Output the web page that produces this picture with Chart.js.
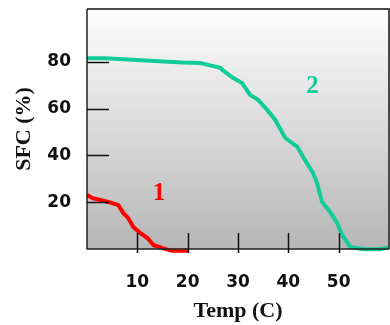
<!DOCTYPE html>
<html>
<head>
<meta charset="utf-8">
<script src="https://cdn.jsdelivr.net/npm/chart.js@4.4.1/dist/chart.umd.min.js"></script>
<style>
  html, body { margin: 0; padding: 0; background: #fff; }
  #wrap { width: 390px; height: 325px; }
</style>
</head>
<body>
<div id="wrap"><canvas id="sfcChart"></canvas></div>
<script>
// Solid fat content curves
const fat1Temp = [0, 1.1, 2.7, 4.2, 6.2, 7.2, 8.2, 9.2, 10.6, 12, 13.2, 15, 16.9, 20.1];
const fat1Sfc = [23.1, 21.7, 20.9, 20.1, 18.8, 15.4, 13.2, 9.4, 6.8, 4.7, 1.7, 0.4, -0.8, -0.8];

const fat2Temp = [0, 3.6, 11.6, 18.9, 22.5, 24.9, 26.5, 26.9, 29, 30.8, 32.4, 34, 35.8, 37.4,
  39.4, 41.8, 43.3, 44.9, 45.7, 46.7, 48.3, 49.7, 50.7, 52.3, 54.8, 58.2, 60];
const fat2Sfc = [81.5, 81.5, 80.5, 79.6, 79.4, 78.2, 77.4, 76.5, 73.1, 70.9, 65.8, 63.7, 59.4, 55.1,
  47.4, 43.6, 38, 32.5, 28.2, 20.1, 15.8, 11.1, 6, 0.9, -0.1, -0.1, 0.7];

const xTickValues = [10, 20, 30, 40, 50];
const yTickValues = [20, 40, 60, 80];

const curveNames = ['1', '2'];
const curveColors = ['#ff0000', '#12cc98'];

function toPoints(xs, ys) {
  return xs.map((x, i) => ({ x: x, y: ys[i] }));
}

// background gradient, frame, inward tick marks and curve numbers
const chartFrame = {
  id: 'chartFrame',
  beforeDraw(chart) {
    const { ctx, chartArea: a } = chart;
    const g = ctx.createLinearGradient(0, a.top, 0, a.bottom);
    g.addColorStop(0, '#fefefe');
    g.addColorStop(1, '#b6b6b6');
    ctx.save();
    ctx.fillStyle = g;
    ctx.fillRect(a.left, a.top, a.right - a.left, a.bottom - a.top);
    ctx.restore();
  },
  afterDatasetsDraw(chart, args, opts) {
    const { ctx, chartArea: a } = chart;
    const xs = chart.scales.x, ys = chart.scales.y;
    ctx.save();
    // top and right border
    ctx.strokeStyle = '#4a4a4a';
    ctx.lineWidth = 2;
    ctx.beginPath();
    ctx.moveTo(a.left, a.top);
    ctx.lineTo(a.right, a.top);
    ctx.lineTo(a.right, a.bottom);
    ctx.stroke();
    // axes
    ctx.strokeStyle = '#222';
    ctx.lineWidth = 1.5;
    ctx.beginPath();
    ctx.moveTo(a.left, a.top);
    ctx.lineTo(a.left, a.bottom);
    ctx.lineTo(a.right, a.bottom);
    ctx.stroke();
    // tick marks pointing inside
    ctx.strokeStyle = '#111';
    ctx.beginPath();
    xs.ticks.forEach(t => {
      const px = Math.round(xs.getPixelForValue(t.value)) + 0.5;
      ctx.moveTo(px, a.bottom + 4);
      ctx.lineTo(px, a.bottom - 16);
    });
    ys.ticks.forEach(t => {
      const py = Math.round(ys.getPixelForValue(t.value)) + 0.5;
      ctx.moveTo(a.left, py);
      ctx.lineTo(a.left + 22, py);
    });
    ctx.stroke();
    // curve numbers
    ctx.font = 'bold 25px "Liberation Serif", "DejaVu Serif", serif';
    ctx.textAlign = 'center';
    ctx.textBaseline = 'middle';
    opts.labels.forEach((lab, i) => {
      ctx.fillStyle = curveColors[i];
      ctx.fillText(curveNames[i], xs.getPixelForValue(lab.x), ys.getPixelForValue(lab.y));
    });
    ctx.restore();
  }
};

const tickFont = { family: '"DejaVu Sans", sans-serif', size: 17, weight: 'bold' };
const titleFont = { family: '"Liberation Serif", "Times New Roman", serif', size: 22, weight: 'bold' };

new Chart(document.getElementById('sfcChart'), {
  type: 'line',
  data: {
    datasets: [
      {
        label: curveNames[0],
        data: toPoints(fat1Temp, fat1Sfc),
        borderColor: curveColors[0],
        borderWidth: 4,
        pointRadius: 0,
        tension: 0,
        fill: false,
        clip: false
      },
      {
        label: curveNames[1],
        data: toPoints(fat2Temp, fat2Sfc),
        borderColor: curveColors[1],
        borderWidth: 4,
        pointRadius: 0,
        tension: 0,
        fill: false,
        clip: false
      }
    ]
  },
  options: {
    responsive: true,
    maintainAspectRatio: false,
    animation: false,
    layout: { padding: { top: 9, right: 1, left: 0, bottom: 0 } },
    plugins: {
      legend: { display: false },
      tooltip: { enabled: false },
      chartFrame: {
        labels: [{ x: 14.3, y: 23.5 }, { x: 44.8, y: 69.5 }]
      }
    },
    scales: {
      x: {
        type: 'linear',
        min: 0,
        max: 60,
        grid: { display: false, drawTicks: false },
        border: { display: false },
        afterBuildTicks: s => { s.ticks = xTickValues.map(v => ({ value: v })); },
        afterFit: s => { s.height = 76; s.paddingLeft = 0; s.paddingRight = 0; },
        ticks: { font: tickFont, color: '#111', padding: 23, maxRotation: 0 },
        title: { display: true, text: 'Temp (C)', font: titleFont, color: '#111', padding: { top: 0, bottom: 0 } }
      },
      y: {
        type: 'linear',
        min: 0,
        max: 102.5,
        grid: { display: false, drawTicks: false },
        border: { display: false },
        afterBuildTicks: s => { s.ticks = yTickValues.map(v => ({ value: v })); },
        afterFit: s => { s.width = 87; s.paddingTop = 0; s.paddingBottom = 0; },
        ticks: { font: tickFont, color: '#111', padding: 16 },
        title: { display: true, text: 'SFC (%)', font: titleFont, color: '#111', padding: { top: 11, bottom: 0 } }
      }
    }
  },
  plugins: [chartFrame]
});
</script>
</body>
</html>
